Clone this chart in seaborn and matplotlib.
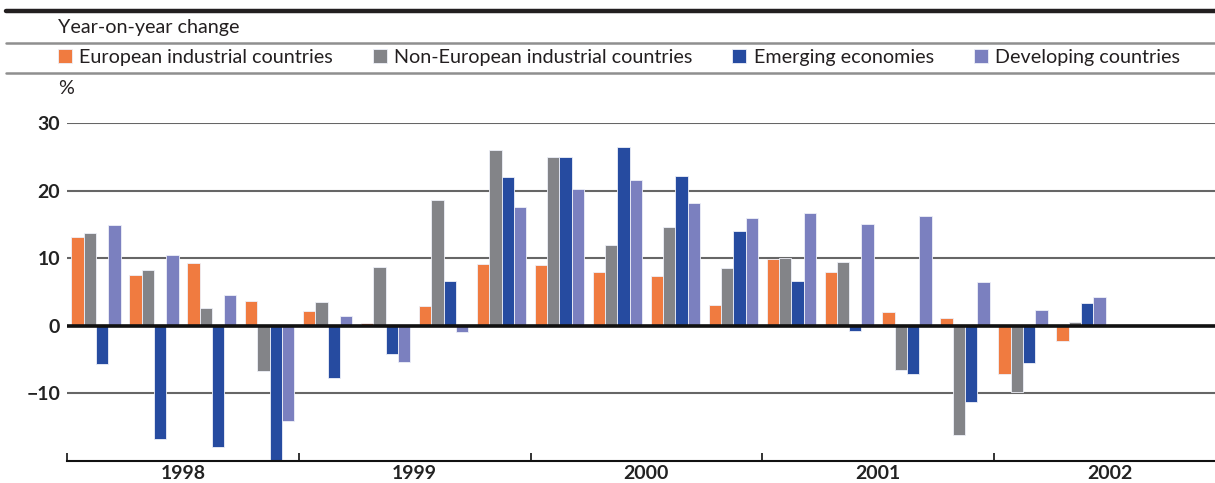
import matplotlib
matplotlib.use("Agg")
import numpy as np
import pandas as pd
import matplotlib.pyplot as plt
import seaborn as sns
from matplotlib.lines import Line2D
from matplotlib.ticker import FixedLocator

# Quarterly data, year-on-year change in %
years = ["1998", "1999", "2000", "2001", "2002"]
quarters = [f"{y}Q{q}" for y in years for q in range(1, 5)]
groups = ["European industrial countries", "Non-European industrial countries",
          "Emerging economies", "Developing countries"]
colors = ["#F07B40", "#838488", "#264BA0", "#7B80BF"]

european = [13.2, 7.5, 9.3, 3.6, 2.2, 0.4, 3.0, 9.2, 9.0, 8.0, 7.3, 3.1,
            9.9, 8.0, 2.1, 1.1, -7.1, -2.2]
non_european = [13.8, 8.2, 2.7, -6.7, 3.5, 8.7, 18.6, 26.0, 24.9, 12.0, 14.6, 8.5,
                10.0, 9.4, -6.5, -16.2, -9.8, 0.5]
emerging = [-5.7, -16.7, -18.0, -19.9, -7.7, -4.2, 6.6, 22.0, 25.0, 26.5, 22.1, 14.0,
            6.7, -0.7, -7.2, -11.2, -5.5, 3.3]
developing = [14.9, 10.4, 4.5, -14.1, 1.5, -5.4, -0.9, 17.5, 20.2, 21.5, 18.2, 15.9,
              16.7, 15.0, 16.3, 6.5, 2.3, 4.2]

ytick_vals = [-10, 0, 10, 20, 30]

df = pd.DataFrame({"quarter": quarters[:len(european)],
                   groups[0]: european, groups[1]: non_european,
                   groups[2]: emerging, groups[3]: developing})
long_df = df.melt(id_vars="quarter", var_name="group", value_name="value")

sns.set_style("white")
plt.rcParams["font.family"] = ["Lato", "DejaVu Sans"]

W, H = 1215, 483
fig = plt.figure(figsize=(W / 100, H / 100), dpi=100)
slot = (994 - 67) / 16
right_px = 67 + slot * 20
ax = fig.add_axes([67 / W, 1 - 461 / H, (right_px - 67) / W, (461 - 123) / H])

sns.barplot(data=long_df, x="quarter", y="value", hue="group",
            order=quarters, hue_order=groups, palette=colors, saturation=1,
            width=0.85, edgecolor="#eef0f8", linewidth=0.6, ax=ax)
handles, labels = ax.get_legend_handles_labels()
ax.get_legend().remove()

ax.set_ylim(-20, 30)
ax.set_xlim(-0.5, 19.5)
ax.set_axisbelow(True)
ax.set_yticks(ytick_vals)
ax.set_yticklabels([str(v).replace("-", "\u2212") for v in ytick_vals],
                   fontweight="bold", fontsize=14, color="#222222")
ax.yaxis.grid(True, color="#666666", linewidth=1.5)
ax.axhline(0, color="#111111", linewidth=2.6, zorder=5)
ax.tick_params(axis="y", length=0, pad=5)

for s in ["left", "right", "top"]:
    ax.spines[s].set_visible(False)
ax.spines["bottom"].set_color("#111111")
ax.spines["bottom"].set_linewidth(1.5)

ax.xaxis.set_major_locator(FixedLocator([1.5, 5.5, 9.5, 13.5, 17.5]))
ax.set_xticklabels(years, fontweight="bold", fontsize=14, color="#222222")
ax.xaxis.set_minor_locator(FixedLocator([-0.5, 3.5, 7.5, 11.5, 15.5]))
ax.tick_params(axis="x", which="major", length=0, pad=3)
ax.tick_params(axis="x", which="minor", length=6, width=1.2, direction="in",
               color="#111111", bottom=True)
ax.set_xlabel("")
ax.set_ylabel("")

# header rules and texts
def hline(y_px, lw, color):
    fig.add_artist(Line2D([6 / W, 1], [1 - y_px / H] * 2, color=color,
                          linewidth=lw, transform=fig.transFigure))

hline(11.3, 3.2, "#231f20")
hline(43, 1.8, "#8f8f8f")
hline(72.7, 1.8, "#8f8f8f")

fig.text(58 / W, 1 - 27.5 / H, "Year-on-year change", fontsize=14.2,
         color="#231f20", va="center", ha="left")
fig.text(58 / W, 1 - 88 / H, "%", fontsize=14.2, color="#231f20",
         va="center", ha="left")

fig.legend(handles, labels, loc="center left",
           bbox_to_anchor=(58 / W, 1 - 57.5 / H), ncol=4, frameon=False,
           fontsize=14.2, handlelength=0.71, handleheight=0.71,
           handletextpad=0.36, columnspacing=2.03, borderpad=0, borderaxespad=0,
           labelcolor="#231f20")

fig.savefig("out.png", dpi=100)
